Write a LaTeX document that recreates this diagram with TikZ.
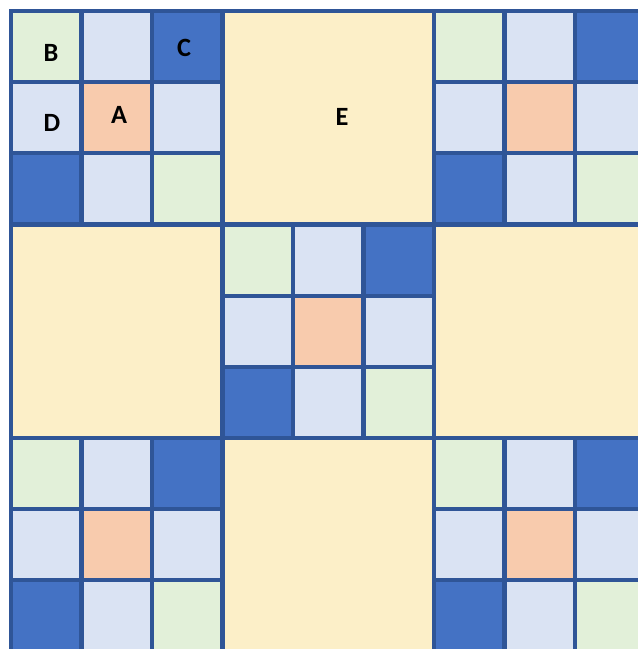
\documentclass[tikz,border=0pt]{standalone}
\usepackage{fontspec}
\setmainfont{Carlito}
\definecolor{gridblue}{HTML}{2F5597}
\definecolor{celldark}{HTML}{4472C4}
\definecolor{celllight}{HTML}{DAE3F3}
\definecolor{cellgreen}{HTML}{E2F0D9}
\definecolor{cellorange}{HTML}{F8CBAD}
\definecolor{cellyellow}{HTML}{FCEFC8}
\tikzset{
    cell/.style={rectangle, draw=gridblue, line width=2.4pt, minimum width=1.41cm, minimum height=1.4233cm, inner sep=0pt, outer sep=0pt},
    bigcell/.style={rectangle, draw=gridblue, line width=2.4pt, fill=cellyellow, minimum width=4.23cm, minimum height=4.27cm, inner sep=0pt, outer sep=0pt},
    tag/.style={font=\fontsize{15}{18}\selectfont\bfseries, inner sep=0pt},
}
\begin{document}
\begin{tikzpicture}[x=0.02cm, y=-0.02cm]
    \useasboundingbox (0,0) rectangle (638,649);
    \clip (0,0) rectangle (638,649);
    % small 3x3 grids: the four corners and the centre
    \foreach \bx/\by in {0/0, 2/0, 1/1, 0/2, 2/2} {
        \foreach \r/\colA/\colB/\colC in {0/cellgreen/celllight/celldark, 1/celllight/cellorange/celllight, 2/celldark/celllight/cellgreen} {
            \foreach \c/\col in {0/\colA, 1/\colB, 2/\colC} {
                \node[cell, fill=\col] (b\bx\by-\r\c) at ({11+\bx*211.5+\c*70.5+35.25}, {11+\by*213.5+\r*71.167+35.583}) {};
            }
        }
    }
    % large yellow squares on the edges
    \foreach \bx/\by/\nm in {1/0/top, 0/1/left, 2/1/right, 1/2/bottom} {
        \node[bigcell] (\nm) at ({11+\bx*211.5+105.75}, {11+\by*213.5+106.75}) {};
    }
    % letters
    \node[tag] (labB) at (51,53) {B};
    \node[tag] (labC) at (184,48) {C};
    \node[tag] (labD) at (52,123) {D};
    \node[tag] (labA) at (119,115) {A};
    \node[tag] (labE) at (342,117) {E};
\end{tikzpicture}
\end{document}
